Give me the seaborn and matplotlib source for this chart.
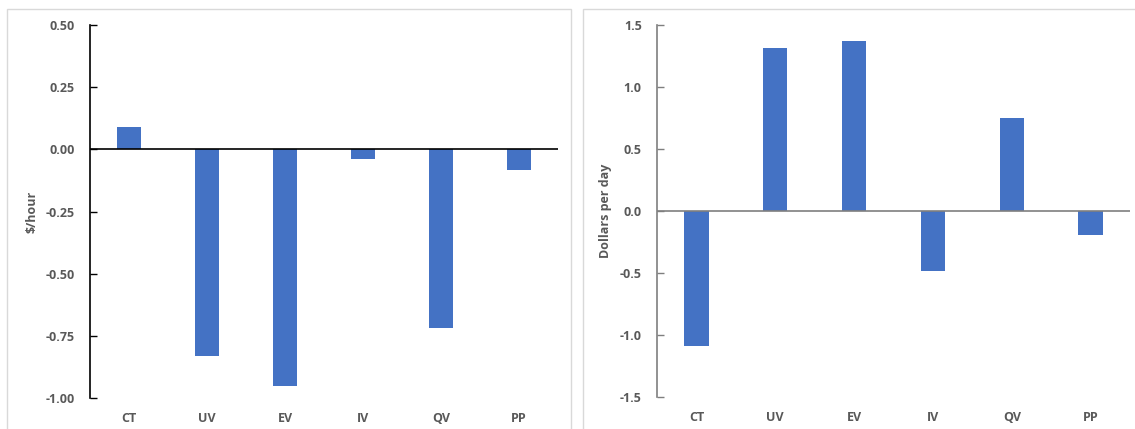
import matplotlib
matplotlib.use("Agg")
import matplotlib.pyplot as plt
import seaborn as sns
from matplotlib.patches import Rectangle

# Data
categories = ["CT", "UV", "EV", "IV", "QV", "PP"]
hourly_change = [0.09, -0.83, -0.95, -0.04, -0.72, -0.085]
daily_change = [-1.09, 1.31, 1.37, -0.49, 0.75, -0.20]
hourly_ticks = [0.50, 0.25, 0.00, -0.25, -0.50, -0.75, -1.00]
daily_ticks = [1.5, 1.0, 0.5, 0.0, -0.5, -1.0, -1.5]

BAR = "#4472C4"
TXT = "#595959"

sns.set_theme(style="white")
plt.rcParams["font.family"] = ["Open Sans", "DejaVu Sans"]

W, H = 1135, 429
fig = plt.figure(figsize=(W / 100, H / 100), dpi=100)


def px_axes(x0, x1, ytop, ybot):
    return fig.add_axes([x0 / W, (H - ybot) / H, (x1 - x0) / W, (ybot - ytop) / H])


# Panel frames
fig.add_artist(Rectangle((7 / W, -0.1), 564 / W, (H - 9) / H + 0.1,
                         transform=fig.transFigure, fill=False,
                         edgecolor="#d9d9d9", linewidth=1.0))
fig.add_artist(Rectangle((583 / W, -0.1), 600 / W, (H - 9) / H + 0.1,
                         transform=fig.transFigure, fill=False,
                         edgecolor="#d9d9d9", linewidth=1.0))

ax1 = px_axes(90, 558, 25, 398)
ax2 = px_axes(657, 1130, 24.5, 396.7)


def style(ax, values, ticks, fmt, ylabel, axis_color, label_x):
    sns.barplot(x=categories, y=values, color=BAR, width=0.31,
                saturation=1, ax=ax, edgecolor="none")
    ax.set_xlim(-0.5, len(categories) - 0.5)
    ax.set_ylim(min(ticks), max(ticks))
    ax.set_yticks(ticks)
    ax.set_yticklabels([fmt.format(t) for t in ticks],
                       fontweight="bold", fontsize=9, color=TXT)
    ax.set_xticks(range(len(categories)))
    ax.set_xticklabels(categories, fontweight="bold", fontsize=9, color=TXT)
    ax.axhline(0, color=axis_color, linewidth=1.2, zorder=3)
    for side in ("top", "right", "bottom"):
        ax.spines[side].set_visible(False)
    ax.spines["left"].set_color(axis_color)
    ax.spines["left"].set_linewidth(1.2)
    ax.tick_params(axis="y", direction="in", length=5, width=1,
                   color=axis_color, pad=11, left=True)
    ax.tick_params(axis="x", length=0, pad=10)
    ax.set_xlabel("")
    ax.set_ylabel(ylabel, fontsize=9, fontweight="bold", color=TXT)
    ax.yaxis.set_label_coords(label_x, 0.5)
    ax.set_facecolor("none")


style(ax1, hourly_change, hourly_ticks, "{:.2f}", "$/hour", "#000000", -0.111)
style(ax2, daily_change, daily_ticks, "{:.1f}", "Dollars per day", "#7f7f7f", -0.095)

fig.savefig("out.png", dpi=100, facecolor="white")
